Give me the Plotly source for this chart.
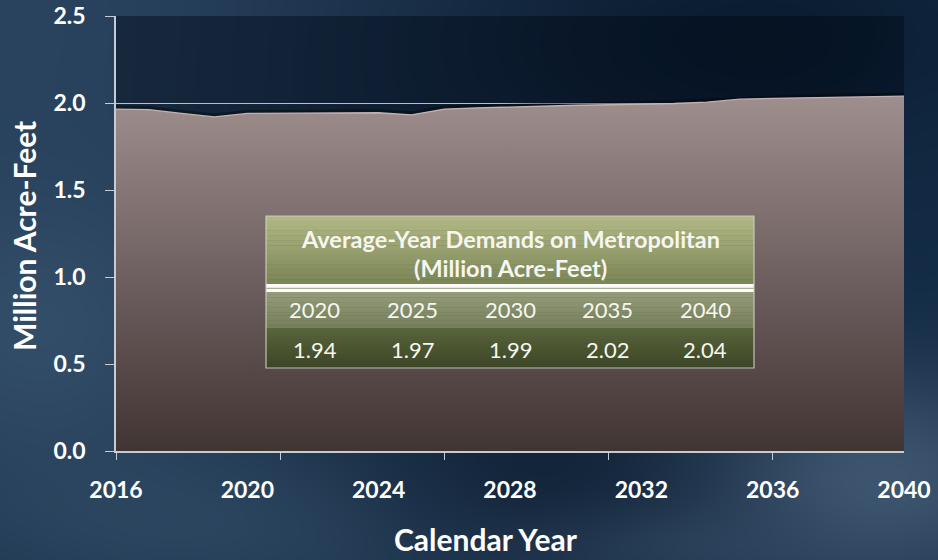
import base64
import struct
import zlib

import numpy as np
import plotly.graph_objects as go

# ---- data -------------------------------------------------------------
years = list(range(2016, 2041))
demand = [1.965, 1.962, 1.940, 1.920, 1.940, 1.940, 1.942, 1.944, 1.944, 1.932,
          1.965, 1.972, 1.978, 1.983, 1.987, 1.990, 1.993, 1.997, 2.005, 2.022,
          2.027, 2.030, 2.033, 2.036, 2.039]

label_years = [2016, 2020, 2024, 2028, 2032, 2036, 2040]
tick_years = [2016, 2021, 2026, 2031, 2036]
y_ticks = [0.0, 0.5, 1.0, 1.5, 2.0, 2.5]

table_title = ["Average-Year Demands on Metropolitan", "(Million Acre-Feet)"]
table_years = [2020, 2025, 2030, 2035, 2040]
table_values = [1.94, 1.97, 1.99, 2.02, 2.04]

# ---- canvas geometry ---------------------------------------------------
W, H = 938, 560
ML, MR, MT, MB = 116, 34, 16, 109
PW, PH = W - ML - MR, H - MT - MB
FONT = "Lato"


def px(xp):
    return (xp - ML) / PW


def py(yp):
    return (H - MB - yp) / PH


# ---- slide-style background rendered to a PNG ------------------------
def background():
    yy, xx = np.mgrid[0:H, 0:W].astype(float)
    img = np.zeros((H, W, 3)) + np.array([26, 48, 74], float)

    def blob(cx, cy, rx, ry, color, s):
        w = s * np.exp(-(((xx - cx) / rx) ** 2 + ((yy - cy) / ry) ** 2))
        img[:] = img * (1 - w[..., None]) + np.array(color, float) * w[..., None]

    blob(0, 0, 380, 260, (44, 70, 98), 0.85)
    blob(40, 330, 200, 170, (58, 86, 113), 0.75)
    blob(260, 520, 320, 90, (54, 82, 109), 0.65)
    blob(560, 470, 220, 110, (14, 30, 50), 0.75)
    blob(760, 40, 320, 140, (8, 25, 44), 0.85)
    blob(920, 250, 70, 230, (14, 40, 66), 0.6)
    blob(880, 480, 170, 110, (78, 102, 128), 0.7)
    blob(700, 545, 160, 40, (52, 76, 102), 0.5)
    arr = np.clip(img, 0, 255).astype(np.uint8)

    raw = b"".join(b"\x00" + arr[r].tobytes() for r in range(H))

    def chunk(tag, data):
        c = struct.pack(">I", len(data)) + tag + data
        return c + struct.pack(">I", zlib.crc32(tag + data) & 0xFFFFFFFF)

    png = (b"\x89PNG\r\n\x1a\n"
           + chunk(b"IHDR", struct.pack(">IIBBBBB", W, H, 8, 2, 0, 0, 0))
           + chunk(b"IDAT", zlib.compress(raw, 9))
           + chunk(b"IEND", b""))
    return "data:image/png;base64," + base64.b64encode(png).decode()


fig = go.Figure()

# soft shadow along the top edge of the area
fig.add_trace(go.Scatter(
    x=years, y=demand, mode="lines",
    line=dict(color="rgba(0,0,0,0.35)", width=7),
    hoverinfo="skip", showlegend=False,
))

# demand area with vertical gradient fill
fig.add_trace(go.Scatter(
    x=years, y=demand, mode="lines", fill="tozeroy",
    line=dict(color="rgba(200,182,182,0.95)", width=1.3),
    fillgradient=dict(
        type="vertical", start=0, stop=2.04,
        colorscale=[[0.0, "#413533"], [0.25, "#574a49"], [0.5, "#6f6161"],
                    [0.75, "#877877"], [1.0, "#9e8e8d"]],
    ),
    hoverinfo="skip", showlegend=False,
))

# carrier trace for the tick-mark axis
fig.add_trace(go.Scatter(
    x=[years[0]], y=[0], xaxis="x2", mode="markers",
    marker=dict(opacity=0), hoverinfo="skip", showlegend=False,
))

shapes = []
# darker plotting area
shapes.append(dict(type="rect", xref="x domain", yref="y domain",
                   x0=0, x1=1, y0=0, y1=1, layer="below", line_width=0,
                   fillcolor="rgba(0,8,20,0.42)"))


def band(y_top, y_bot, c_top, c_bot, steps=14):
    x0, x1 = px(266), px(754)
    for i in range(steps):
        t = i / (steps - 1) if steps > 1 else 0.0
        c = [round(a + (b - a) * t) for a, b in zip(c_top, c_bot)]
        ya = y_top + (y_bot - y_top) * i / steps
        yb = y_top + (y_bot - y_top) * (i + 1) / steps
        shapes.append(dict(type="rect", xref="paper", yref="paper",
                           x0=x0, x1=x1, y0=py(yb) - 0.0005, y1=py(ya),
                           line_width=0, fillcolor="rgb(%d,%d,%d)" % tuple(c),
                           layer="above"))


# summary table: title, header row, value row
band(216, 284, (176, 183, 132), (124, 135, 86))
band(284, 292, (252, 252, 250), (252, 252, 250), steps=1)
shapes.append(dict(type="line", xref="paper", yref="paper",
                   x0=px(266), x1=px(754), y0=py(288.3), y1=py(288.3),
                   line=dict(color="rgb(150,158,120)", width=1), layer="above"))
band(292, 328, (148, 156, 120), (118, 128, 92))
band(328, 368, (88, 100, 58), (60, 70, 38))
shapes.append(dict(type="rect", xref="paper", yref="paper",
                   x0=px(266), x1=px(754), y0=py(368), y1=py(216),
                   line=dict(color="rgba(205,208,195,0.9)", width=1.2),
                   fillcolor="rgba(0,0,0,0)", layer="above"))

annotations = []


def note(text, xp, yp, size, angle=0, bold=True, color="#f6f6f0"):
    annotations.append(dict(
        text=text, xref="paper", yref="paper", x=px(xp), y=py(yp),
        xanchor="center", yanchor="middle", textangle=angle, showarrow=False,
        font=dict(family=FONT, size=size, color=color,
                  weight="bold" if bold else "normal"),
    ))


for i, line in enumerate(table_title):
    note(line, 510, 239 + 29 * i, 23.5)

col_w = (754 - 266) / len(table_years)
for i, (yr, val) in enumerate(zip(table_years, table_values)):
    cx = 266 + col_w * (i + 0.5)
    note(str(yr), cx, 309, 22, bold=False)
    note("%.2f" % val, cx, 349, 22, bold=False)

# axis titles
note("Million Acre-Feet", 24, 236, 30, angle=-90, color="white")
note("Calendar Year", 486, 539, 30, color="white")

axis_col = "rgba(205,212,220,0.95)"
tick_font = dict(family=FONT, size=23, color="white", weight="bold")
fig.update_layout(
    width=W, height=H, autosize=False,
    margin=dict(l=ML, r=MR, t=MT, b=MB, pad=0, autoexpand=False),
    paper_bgcolor="#1a304a", plot_bgcolor="rgba(0,0,0,0)",
    showlegend=False,
    images=[dict(source=background(), xref="paper", yref="paper",
                 x=px(0), y=py(0), sizex=W / PW, sizey=H / PH,
                 xanchor="left", yanchor="top", sizing="stretch",
                 layer="below")],
    xaxis=dict(range=[2016, 2040], tickvals=label_years, ticks="",
               showgrid=False, zeroline=False, showline=True, automargin=False,
               linecolor=axis_col, linewidth=1.5, ticklabelstandoff=18,
               tickfont=tick_font),
    xaxis2=dict(range=[2016, 2040], overlaying="x", anchor="y", side="bottom",
                tickvals=tick_years, ticks="outside", ticklen=8, automargin=False,
                tickcolor=axis_col, tickwidth=1.2, showticklabels=False,
                showgrid=False, zeroline=False, showline=False),
    yaxis=dict(range=[0, 2.5], tickvals=y_ticks, tickformat=".1f",
               ticks="outside", ticklen=9, tickcolor=axis_col, tickwidth=1.2,
               showgrid=True, gridcolor="rgba(200,210,220,0.9)", gridwidth=1.3,
               zeroline=False, showline=True, linecolor=axis_col, linewidth=1.5,
               ticklabelstandoff=15, automargin=False,
               tickfont=tick_font),
    shapes=shapes,
    annotations=annotations,
)

fig.write_html("out.html")
